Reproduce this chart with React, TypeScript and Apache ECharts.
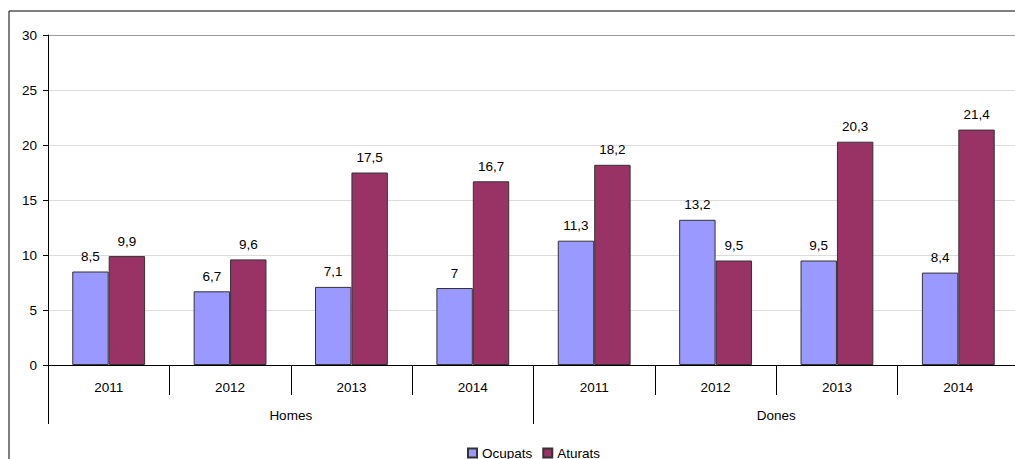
import React, { useEffect, useRef } from "react";
import * as echarts from "echarts";

const years = ["2011", "2012", "2013", "2014", "2011", "2012", "2013", "2014"];
const groups = ["Homes", "Dones"];
const ocupats = [8.5, 6.7, 7.1, 7, 11.3, 13.2, 9.5, 8.4];
const aturats = [9.9, 9.6, 17.5, 16.7, 18.2, 9.5, 20.3, 21.4];
const yTicks = [0, 5, 10, 15, 20, 25, 30];

const FONT = "'Liberation Sans', Arial, sans-serif";
const FS = 13.5;

export default function App() {
  const ref = useRef<HTMLDivElement>(null);
  useEffect(() => {
    const chart = echarts.init(ref.current!, null, { renderer: "svg" });
    const label = {
      show: true,
      position: "top" as const,
      distance: 8,
      color: "#000",
      fontSize: FS,
      fontFamily: FONT,
      formatter: (p: any) => String(p.value).replace(".", ","),
    };
    chart.setOption({
      animation: false,
      textStyle: { fontFamily: FONT },
      graphic: [
        {
          type: "rect",
          shape: { x: 9, y: 11, width: 1060, height: 480 },
          style: { fill: "none", stroke: "#000", lineWidth: 1 },
          silent: true,
          z: -10,
        },
      ],
      legend: {
        data: ["Ocupats", "Aturats"],
        left: 467,
        top: 446,
        itemWidth: 9,
        itemHeight: 9,
        itemGap: 10,
        icon: "rect",
        textStyle: { fontSize: FS, color: "#000", fontFamily: FONT },
        padding: 0,
      },
      grid: { left: 48, top: 35, width: 971, height: 330 },
      xAxis: [
        {
          type: "category",
          data: years,
          position: "bottom",
          axisLine: { show: true, lineStyle: { color: "#000", width: 1 } },
          axisTick: { show: true, length: 30, lineStyle: { color: "#000" } },
          axisLabel: { fontSize: FS, color: "#000", margin: 15, fontFamily: FONT },
        },
        {
          type: "category",
          data: groups,
          position: "bottom",
          axisLine: { show: false },
          axisTick: { show: true, length: 59, lineStyle: { color: "#000" } },
          axisLabel: { fontSize: FS, color: "#000", margin: 43, fontFamily: FONT },
        },
      ],
      yAxis: {
        type: "value",
        min: yTicks[0],
        max: yTicks[yTicks.length - 1],
        interval: 5,
        axisLine: { show: true, lineStyle: { color: "#000" } },
        axisTick: { show: true, length: 5, lineStyle: { color: "#000" } },
        axisLabel: { fontSize: FS, color: "#000", margin: 11, fontFamily: FONT },
        splitLine: {
          show: true,
          lineStyle: {
            color: ["#000", "#dcdcdc", "#dcdcdc", "#dcdcdc", "#dcdcdc", "#dcdcdc", "#9a9a9a"],
            width: 1,
          },
        },
      },
      series: [
        {
          name: "Ocupats",
          type: "bar",
          data: ocupats,
          barGap: "0%",
          barCategoryGap: "40%",
          itemStyle: { color: "#9999FF", borderColor: "#333333", borderWidth: 1 },
          label,
        },
        {
          name: "Aturats",
          type: "bar",
          data: aturats,
          itemStyle: { color: "#993366", borderColor: "#333333", borderWidth: 1 },
          label,
        },
      ],
    });
    return () => chart.dispose();
  }, []);
  return (
    <div
      style={{
        position: "fixed",
        left: 0,
        top: 0,
        width: 1015,
        height: 459,
        overflow: "hidden",
        background: "#fff",
      }}
    >
      <div ref={ref} style={{ width: 1060, height: 459 }} />
    </div>
  );
}
